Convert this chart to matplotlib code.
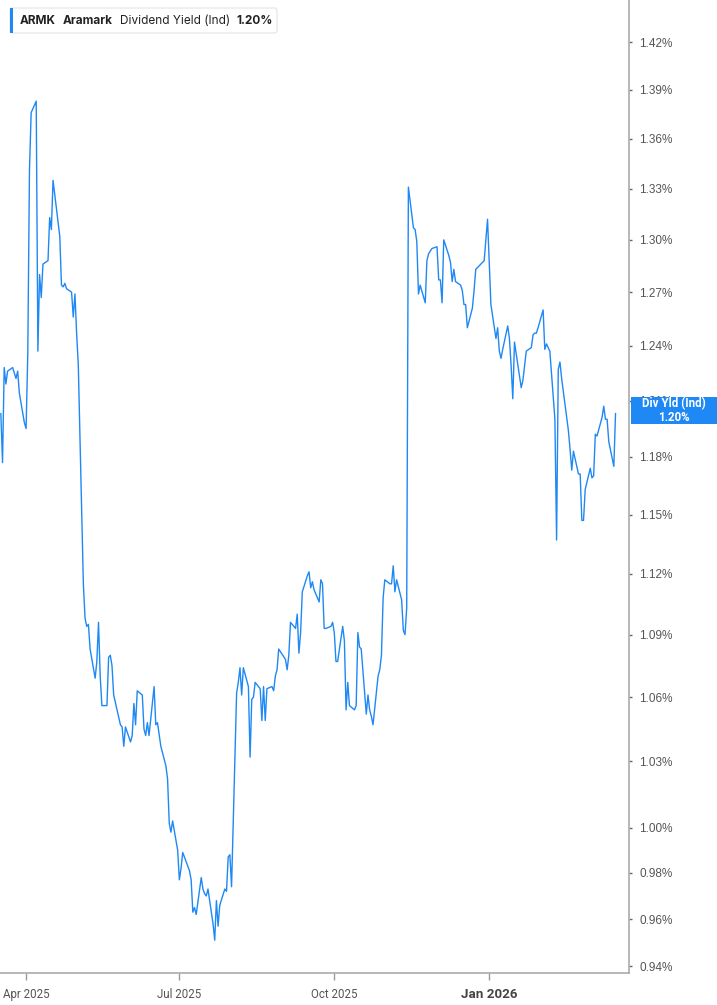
import numpy as np
import pandas as pd
import matplotlib
matplotlib.use("Agg")
import matplotlib.pyplot as plt
from matplotlib.patches import Rectangle, FancyBboxPatch
from matplotlib.ticker import FixedLocator, NullLocator

# Dividend yield (%), one value per trading day starting 2025-03-17
start_date = "2025-03-17"
market_holidays = ["2025-04-18", "2025-05-26", "2025-06-19", "2025-07-04",
                   "2025-09-01", "2025-11-27", "2025-12-25", "2026-01-01",
                   "2026-01-19", "2026-02-16"]
yield_spring = [1.203, 1.177, 1.228, 1.219, 1.226, 1.228, 1.225, 1.222, 1.226, 1.214,
                1.198, 1.195, 1.236, 1.341, 1.376, 1.383, 1.237, 1.280, 1.267, 1.286,
                1.288, 1.313, 1.306, 1.335, 1.302, 1.274, 1.273, 1.275, 1.272, 1.270,
                1.256, 1.269, 1.247, 1.229, 1.115, 1.098, 1.094, 1.095, 1.083, 1.069,
                1.077, 1.096, 1.070, 1.056, 1.056, 1.079, 1.080, 1.075, 1.061, 1.047,
                1.046, 1.037, 1.046, 1.039, 1.042, 1.057, 1.047, 1.063, 1.061, 1.045,
                1.042, 1.048, 1.042, 1.065, 1.047, 1.048]
yield_summer = [1.037, 1.028, 1.022, 1.002, 0.998, 1.003, 0.990, 0.977, 0.982, 0.989,
                0.981, 0.977, 0.963, 0.965, 0.962, 0.978, 0.973, 0.971, 0.970, 0.973,
                0.958, 0.951, 0.968, 0.957, 0.966, 0.973, 0.972, 0.987, 0.988, 0.974,
                1.062, 1.067, 1.074, 1.061, 1.074, 1.065, 1.032, 1.059, 1.060, 1.067,
                1.064, 1.049, 1.065, 1.049, 1.064, 1.065, 1.063, 1.070, 1.073, 1.083,
                1.078, 1.073, 1.080, 1.096, 1.093, 1.100, 1.081, 1.091, 1.111, 1.119,
                1.121, 1.113, 1.116, 1.112, 1.106, 1.117, 1.115]
yield_autumn = [1.093, 1.093, 1.094, 1.096, 1.091, 1.077, 1.077, 1.094, 1.087, 1.054,
                1.067, 1.056, 1.054, 1.056, 1.091, 1.084, 1.083, 1.052, 1.061, 1.054,
                1.051, 1.047, 1.070, 1.073, 1.080, 1.108, 1.117, 1.115, 1.115, 1.124,
                1.111, 1.117, 1.107, 1.092, 1.090, 1.103, 1.331, 1.307, 1.306, 1.299,
                1.269, 1.274, 1.264, 1.288, 1.292, 1.295, 1.296, 1.277, 1.277, 1.264,
                1.300, 1.291, 1.287, 1.276, 1.283, 1.276, 1.274, 1.271, 1.263, 1.263,
                1.250, 1.261, 1.271, 1.283, 1.285, 1.288, 1.300, 1.312]
yield_winter = [1.263, 1.244, 1.250, 1.237, 1.233, 1.238, 1.251, 1.244, 1.229, 1.211,
                1.242, 1.217, 1.221, 1.229, 1.237, 1.239, 1.246, 1.247, 1.247, 1.250,
                1.260, 1.238, 1.241, 1.239, 1.237, 1.200, 1.137, 1.227, 1.231, 1.222,
                1.194, 1.184, 1.173, 1.183, 1.171, 1.171, 1.147, 1.147, 1.163, 1.174,
                1.169, 1.170, 1.192, 1.191, 1.201, 1.207, 1.200, 1.200, 1.188, 1.175,
                1.203]

yticks = [0.94, 0.96, 0.98, 1.00, 1.03, 1.06, 1.09, 1.12, 1.15, 1.18, 1.21,
          1.24, 1.27, 1.30, 1.33, 1.36, 1.39, 1.42]
xticks = ["2025-04-01", "2025-07-01", "2025-10-01", "2026-01-01"]
xtick_labels = ["Apr 2025", "Jul 2025", "Oct 2025", "Jan 2026"]

values = np.array(yield_spring + yield_summer + yield_autumn + yield_winter)
trading_day = pd.offsets.CustomBusinessDay(holidays=market_holidays)
dates = pd.date_range(start=start_date, periods=len(values), freq=trading_day)

W, H = 717, 1005
fig = plt.figure(figsize=(W / 100, H / 100), dpi=100)
ax = fig.add_axes([0, 32 / H, 629 / W, 973 / H])

line_color = "#1e88f5"
ax.plot(dates, values, color=line_color, linewidth=1.0)

ax.set_yscale("log")
ax.set_ylim(0.9372, 1.4469)
ax.set_xlim(pd.Timestamp("2025-03-16 12:00"), pd.Timestamp("2026-03-25"))

ax.yaxis.set_major_locator(FixedLocator(yticks))
ax.yaxis.set_minor_locator(NullLocator())
ax.set_yticklabels([f"{v:.2f}%" for v in yticks])
ax.yaxis.tick_right()
ax.tick_params(axis="y", which="major", direction="out", length=2.5, width=1,
               color="#666666", labelcolor="#555555", labelsize=8.5, pad=5)
for lab in ax.get_yticklabels():
    lab.set_fontfamily("Liberation Sans")

ax.set_xticks([pd.Timestamp(d) for d in xticks])
ax.set_xticklabels(xtick_labels)
ax.tick_params(axis="x", direction="out", length=5, width=1, color="#999999",
               labelcolor="#555555", labelsize=8.3, pad=6)
for lab in ax.get_xticklabels():
    lab.set_fontfamily("Roboto")
    if lab.get_text() == "Jan 2026":
        lab.set_fontweight("bold")
        lab.set_color("#444444")
        lab.set_fontsize(9.6)

for s in ["top", "left"]:
    ax.spines[s].set_visible(False)
for s in ["right", "bottom"]:
    ax.spines[s].set_color("#aaaaaa")
    ax.spines[s].set_linewidth(1.2)

# current value tag on the right axis
fig.patches.append(Rectangle((631 / W, 1 - 424 / H), 86 / W, 27 / H,
                             transform=fig.transFigure, facecolor="#1e88f5",
                             edgecolor="none", zorder=5))
fig.text(674 / W, 1 - 410.5 / H, "Div Yld (Ind)\n1.20%", ha="center", va="center",
         color="white", fontsize=8.3, fontweight="bold", family="Roboto",
         linespacing=1.0, zorder=6)

# legend box at top-left
fig.patches.append(FancyBboxPatch((10 / W, 1 - 33 / H), 267 / W, 25 / H,
                                  boxstyle="round,pad=0,rounding_size=0.003",
                                  transform=fig.transFigure, facecolor="white",
                                  edgecolor="#e3e3e3", linewidth=0.8, zorder=5))
fig.patches.append(Rectangle((10 / W, 1 - 33 / H), 3 / W, 25 / H,
                             transform=fig.transFigure, facecolor="#1e88f5",
                             edgecolor="none", zorder=6))
ty = 1 - 21 / H
fig.text(20 / W, ty, "ARMK", ha="left", va="center", fontsize=8.5,
         fontweight="bold", color="#222222", family="Inter", zorder=7)
fig.text(63 / W, ty, "Aramark", ha="left", va="center", fontsize=8.5,
         fontweight="bold", color="#222222", family="Inter", zorder=7)
fig.text(120 / W, ty, "Dividend Yield (Ind)", ha="left", va="center", fontsize=8.5,
         color="#222222", family="Inter", zorder=7)
fig.text(236 / W, ty, "1.20%", ha="left", va="center", fontsize=8.5,
         fontweight="bold", color="#222222", family="Inter", zorder=7)

fig.savefig("out.png", dpi=100)
